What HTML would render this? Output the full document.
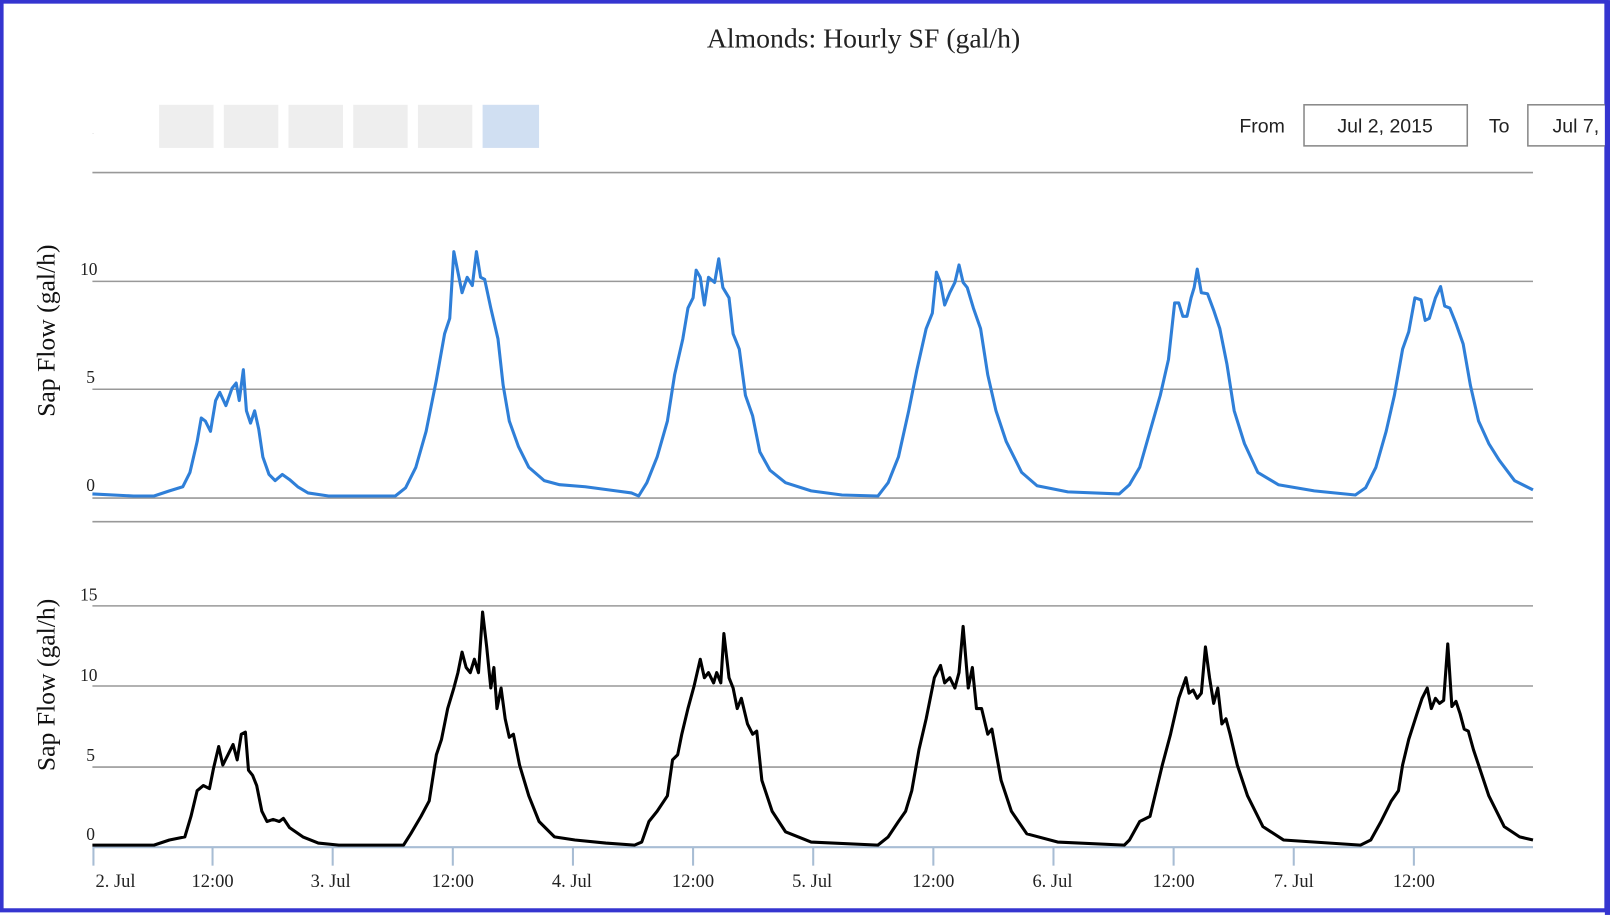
<!DOCTYPE html>
<html><head><meta charset="utf-8"><style>
html,body{margin:0;padding:0;background:#fff;}
svg{display:block;}
</style></head><body>
<svg width="1610" height="915" viewBox="0 0 1568 891" xmlns="http://www.w3.org/2000/svg">
<rect x="0" y="0" width="1568" height="891" fill="#fff"/>
<rect x="1.5" y="1.5" width="1563" height="885" fill="none" stroke="#3535d0" stroke-width="4"/>
<text x="841" y="46" text-anchor="middle" font-family="Liberation Serif, serif" font-size="27" fill="#222">Almonds: Hourly SF (gal/h)</text>
<text x="90" y="131" font-family="Liberation Sans, sans-serif" font-size="4" fill="#aaa">-</text>
<g fill="#eeeeee">
<rect x="155" y="102" width="53" height="42"/><rect x="218" y="102" width="53" height="42"/>
<rect x="281" y="102" width="53" height="42"/><rect x="344" y="102" width="53" height="42"/>
<rect x="407" y="102" width="53" height="42"/></g>
<rect x="470" y="102" width="55" height="42" fill="#d0dff2"/>
<text x="1207" y="129" font-family="Liberation Sans, sans-serif" font-size="19" fill="#222">From</text>
<rect x="1270" y="102" width="159" height="40" fill="#fff" stroke="#888" stroke-width="1.5"/>
<text x="1349" y="129" text-anchor="middle" font-family="Liberation Sans, sans-serif" font-size="19" fill="#222">Jul 2, 2015</text>
<text x="1450" y="129" font-family="Liberation Sans, sans-serif" font-size="19" fill="#222">To</text>
<rect x="1488" y="102" width="90" height="40" fill="#fff" stroke="#888" stroke-width="1.5"/>
<text x="1512" y="129" font-family="Liberation Sans, sans-serif" font-size="19" fill="#222">Jul 7,</text>
<rect x="1563" y="0" width="5" height="891" fill="#3535d0"/>
<g stroke="#999" stroke-width="1.5">
<line x1="90" y1="168" x2="1493" y2="168"/>
<line x1="90" y1="274" x2="1493" y2="274"/>
<line x1="90" y1="379" x2="1493" y2="379"/>
<line x1="90" y1="485" x2="1493" y2="485"/>
<line x1="90" y1="508" x2="1493" y2="508"/>
<line x1="90" y1="590" x2="1493" y2="590"/>
<line x1="90" y1="668" x2="1493" y2="668"/>
<line x1="90" y1="747" x2="1493" y2="747"/>
</g>
<line x1="90" y1="825" x2="1493" y2="825" stroke="#a8bdd4" stroke-width="2"/>
<g stroke="#a8bdd4" stroke-width="2">
<line x1="91" y1="825" x2="91" y2="843"/><line x1="207" y1="825" x2="207" y2="843"/>
<line x1="324" y1="825" x2="324" y2="843"/><line x1="441" y1="825" x2="441" y2="843"/>
<line x1="558" y1="825" x2="558" y2="843"/><line x1="675" y1="825" x2="675" y2="843"/>
<line x1="792" y1="825" x2="792" y2="843"/><line x1="909" y1="825" x2="909" y2="843"/>
<line x1="1026" y1="825" x2="1026" y2="843"/><line x1="1143" y1="825" x2="1143" y2="843"/>
<line x1="1260" y1="825" x2="1260" y2="843"/><line x1="1377" y1="825" x2="1377" y2="843"/>
</g>
<g font-family="Liberation Serif, serif" font-size="18" fill="#222">
<text x="93" y="864">2. Jul</text><text x="207" y="864" text-anchor="middle">12:00</text>
<text x="322" y="864" text-anchor="middle">3. Jul</text><text x="441" y="864" text-anchor="middle">12:00</text>
<text x="557" y="864" text-anchor="middle">4. Jul</text><text x="675" y="864" text-anchor="middle">12:00</text>
<text x="791" y="864" text-anchor="middle">5. Jul</text><text x="909" y="864" text-anchor="middle">12:00</text>
<text x="1025" y="864" text-anchor="middle">6. Jul</text><text x="1143" y="864" text-anchor="middle">12:00</text>
<text x="1260" y="864" text-anchor="middle">7. Jul</text><text x="1377" y="864" text-anchor="middle">12:00</text>
</g>
<g font-family="Liberation Serif, serif" font-size="17" fill="#222">
<text x="78" y="268">10</text><text x="84" y="373">5</text><text x="84" y="478">0</text>
<text x="78" y="585">15</text><text x="78" y="663">10</text><text x="84" y="741">5</text><text x="84" y="818">0</text>
</g>
<g font-family="Liberation Serif, serif" font-size="25" fill="#111">
<text transform="translate(53,322) rotate(-90)" text-anchor="middle">Sap Flow (gal/h)</text>
<text transform="translate(53,667) rotate(-90)" text-anchor="middle">Sap Flow (gal/h)</text>
</g>
<polyline fill="none" stroke="#2f7fd8" stroke-width="3" stroke-linejoin="round" points="90,481 130,483 150,483 165,478 178,474 185,460 192,430 196,407 200,410 205,420 210,390 214,382 220,395 226,378 230,373 233,390 237,360 240,400 244,412 248,400 252,418 256,445 262,462 268,468 275,462 282,467 290,474 300,480 320,483 385,483 395,475 405,455 415,420 425,370 433,325 438,310 442,245 446,265 450,285 455,270 460,278 464,245 468,270 472,272 478,300 485,330 490,375 496,410 505,435 515,455 530,468 545,472 570,474 600,478 615,480 622,483 630,470 640,445 650,410 657,365 665,330 670,300 675,290 678,263 682,270 686,297 690,270 696,275 700,252 704,280 710,290 714,325 720,340 726,385 733,405 740,440 750,458 765,470 790,478 820,482 855,483 865,470 875,445 885,400 893,360 902,320 908,305 912,265 916,275 920,297 925,285 930,275 934,258 938,275 942,280 948,300 955,320 962,365 970,400 980,430 995,460 1010,473 1040,479 1090,481 1100,472 1110,455 1120,420 1130,385 1138,350 1144,295 1148,295 1152,308 1156,308 1160,290 1163,280 1166,262 1170,285 1176,286 1182,302 1188,320 1195,355 1202,400 1212,432 1225,460 1245,472 1280,478 1320,482 1330,475 1340,455 1350,420 1358,385 1366,340 1372,323 1378,290 1384,292 1388,312 1392,310 1398,290 1403,279 1407,298 1412,300 1418,315 1425,335 1432,375 1440,410 1450,432 1460,448 1475,468 1493,477"/>
<polyline fill="none" stroke="#000" stroke-width="3" stroke-linejoin="round" points="90,823 150,823 165,818 180,815 186,795 192,770 198,765 204,768 208,748 213,727 217,745 222,735 227,725 231,740 235,715 239,713 242,750 246,755 250,765 255,790 260,800 266,798 272,800 276,797 282,806 295,815 310,821 330,823 393,823 400,812 410,795 418,780 425,735 430,720 436,690 442,670 446,655 450,635 454,650 458,655 462,642 466,655 470,596 474,630 478,670 481,650 484,690 488,670 492,700 496,718 500,715 506,745 515,775 525,800 540,815 560,818 590,821 618,823 625,820 632,800 640,790 650,775 655,740 660,735 664,715 670,690 676,668 682,642 686,660 690,655 695,665 698,655 702,665 705,617 710,660 714,670 718,690 722,680 728,705 733,715 737,712 742,760 752,790 765,810 790,820 855,823 865,815 875,800 882,790 888,770 895,730 902,700 910,660 916,648 920,665 925,660 930,670 934,655 938,610 943,670 947,650 951,690 956,690 962,715 966,710 975,760 985,790 1000,812 1030,820 1095,823 1100,818 1110,800 1120,795 1126,770 1132,745 1140,715 1148,680 1155,660 1158,675 1162,672 1166,680 1170,675 1174,630 1178,660 1182,685 1186,670 1190,705 1194,700 1198,715 1205,745 1215,775 1230,805 1250,818 1325,823 1335,818 1345,800 1355,780 1362,770 1366,745 1372,720 1380,695 1385,680 1390,670 1394,690 1398,680 1402,685 1406,682 1410,627 1414,688 1418,683 1422,695 1426,710 1430,712 1435,730 1440,745 1450,775 1465,805 1480,815 1493,818"/>
</svg>
</body></html>
